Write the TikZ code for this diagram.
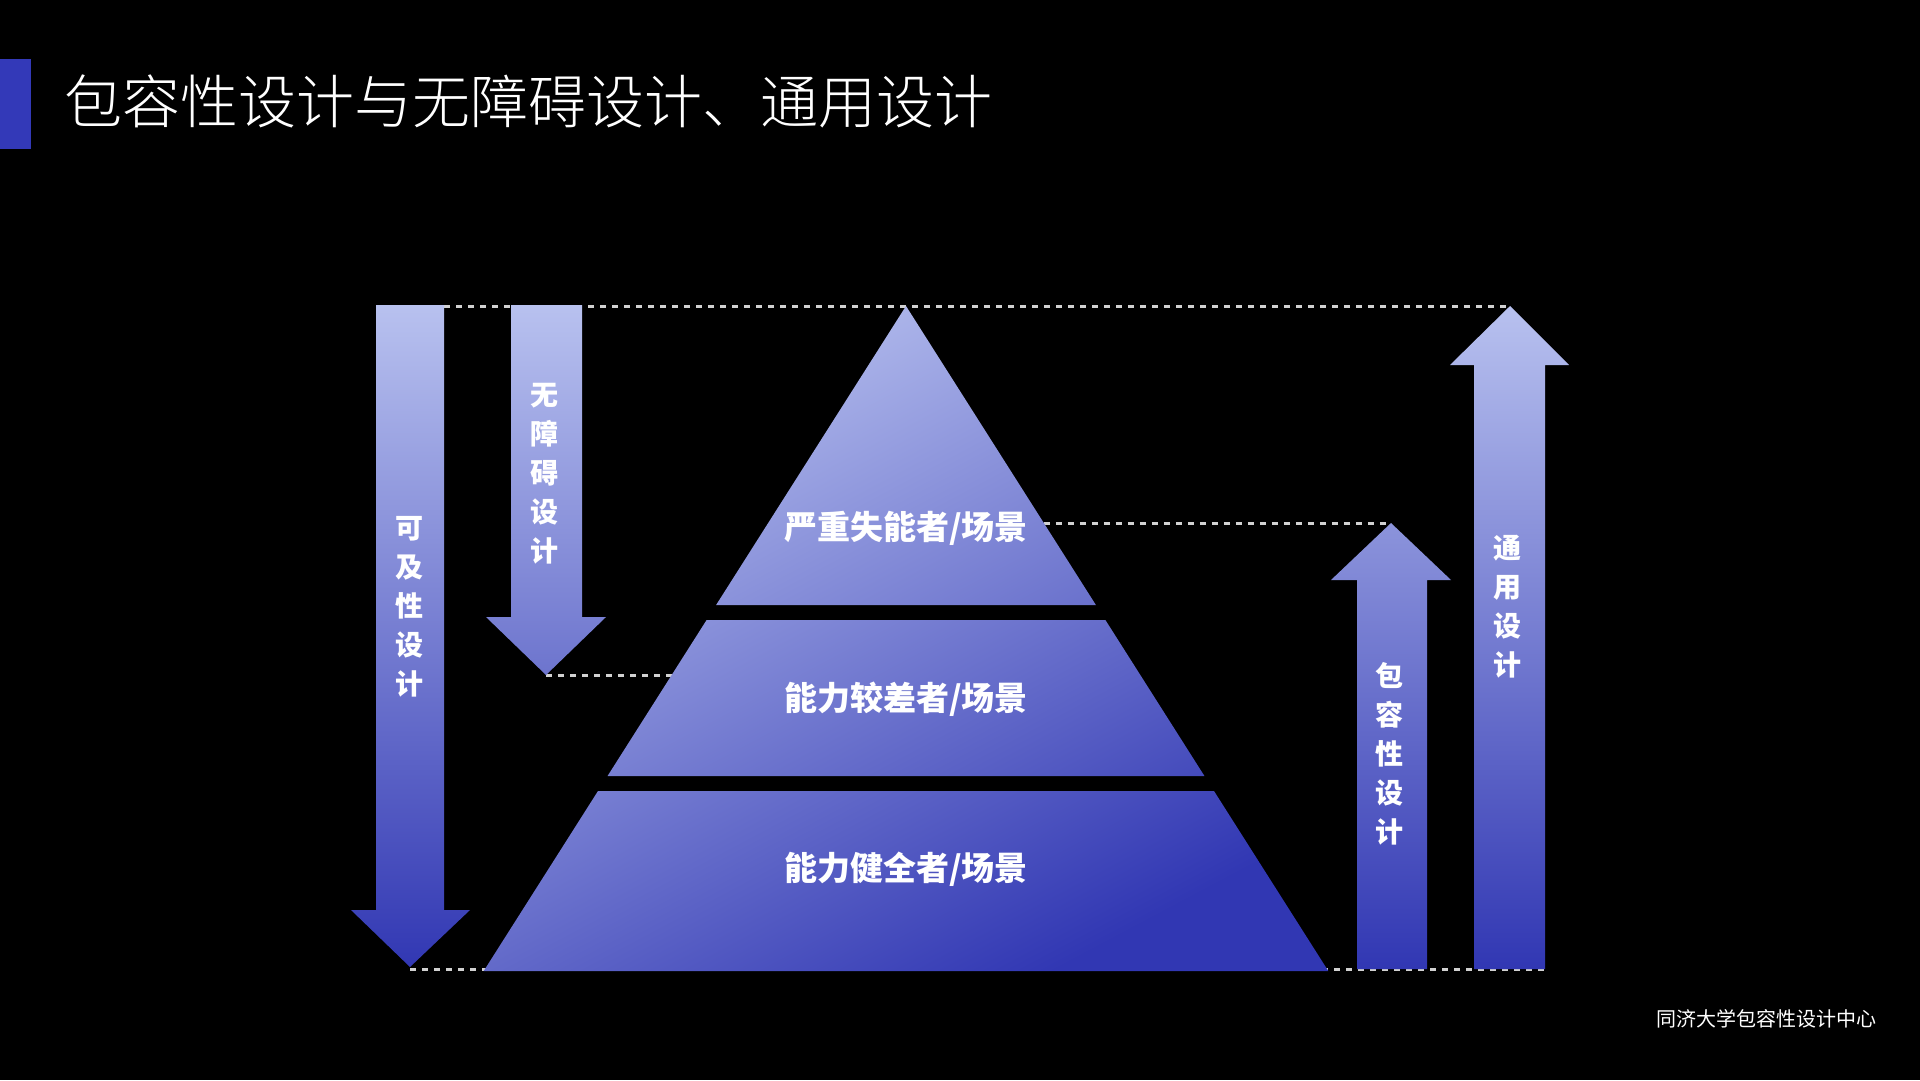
\documentclass[tikz,border=0pt]{standalone}
\usepackage{fontspec}
\newfontfamily\cjk{Noto Sans CJK SC}
\newfontfamily\cjklight{Noto Sans CJK SC Light}
\definecolor{lt}{HTML}{B8C1EF}
\definecolor{dk}{HTML}{3137B3}
\definecolor{barblue}{HTML}{3339B8}
\begin{document}
\begin{tikzpicture}[x=1pt,y=-1pt,
  dotline/.style={draw=white!82!black, line width=3pt, dash pattern=on 6pt off 6pt},
  vlabel/.style={text=white, font=\cjk\bfseries\fontsize{28}{39}\selectfont, align=center, inner sep=0pt},
  plabel/.style={text=white, font=\cjk\bfseries\fontsize{33}{38}\selectfont, inner sep=0pt},
]
\useasboundingbox (0,0) rectangle (1920,1080);
\fill[black] (0,0) rectangle (1920,1080);
\fill[barblue] (0,59) rectangle (31,149);
\node[anchor=base west, inner sep=0pt, text=white, font=\cjklight\fontsize{58}{60}\selectfont] (title) at (64,123) {包容性设计与无障碍设计、通用设计};

% key points
\coordinate (kjR) at (444,306);
\coordinate (tyTip) at (1510,306);
\coordinate (kjTip) at (410,969);
\coordinate (tyBR) at (1545,969);
\coordinate (wzTip) at (546,675);
\coordinate (t2L) at (671.7,675);
\coordinate (t1R) at (1043.8,523);
\coordinate (brTip) at (1391,523);

% dotted guide lines
\draw[dotline] (kjR) -- (tyTip);
\draw[dotline] (kjTip) -- (tyBR);
\draw[dotline] (wzTip) -- (t2L);
\draw[dotline] (t1R) -- (brTip);

% pyramid
\begin{scope}
\clip (906,306) -- (1095.9,605) -- (716.1,605) -- cycle
      (706.6,620) -- (1105.4,620) -- (1204.45,776) -- (607.55,776) -- cycle
      (598.0,791) -- (1214.0,791) -- (1328.3,971) -- (483.7,971) -- cycle;
\shade[top color=lt, bottom color=dk, shading angle=28] (483,306) rectangle (1329,971);
\end{scope}

% arrows
\begin{scope}
\clip (376,305) -- (444,305) -- (444,910) -- (470,910) -- (410,967) -- (351,910) -- (376,910) -- cycle
      (511,305) -- (582,305) -- (582,617) -- (606,617) -- (546,675) -- (486,617) -- (511,617) -- cycle
      (1357,969) -- (1427,969) -- (1427,580) -- (1451,580) -- (1391,523) -- (1331,580) -- (1357,580) -- cycle
      (1474,969) -- (1545,969) -- (1545,365) -- (1569,365) -- (1510,306) -- (1450,365) -- (1474,365) -- cycle;
\shade[top color=lt, bottom color=dk] (340,305) rectangle (1580,969);
\end{scope}

% arrow labels
\node[vlabel] (kj) at (409,607) {可\\及\\性\\设\\计};
\node[vlabel] (wz) at (544,474) {无\\障\\碍\\设\\计};
\node[vlabel] (br) at (1389,754) {包\\容\\性\\设\\计};
\node[vlabel] (ty) at (1507,607) {通\\用\\设\\计};

% pyramid labels
\node[plabel] (p1) at (906,528) {严重失能者/场景};
\node[plabel] (p2) at (906,699) {能力较差者/场景};
\node[plabel] (p3) at (906,869) {能力健全者/场景};

% footer
\node[anchor=west, inner sep=0pt, text=white, font=\cjk\fontsize{20}{24}\selectfont] (foot) at (1656,1019) {同济大学包容性设计中心};
\end{tikzpicture}
\end{document}
